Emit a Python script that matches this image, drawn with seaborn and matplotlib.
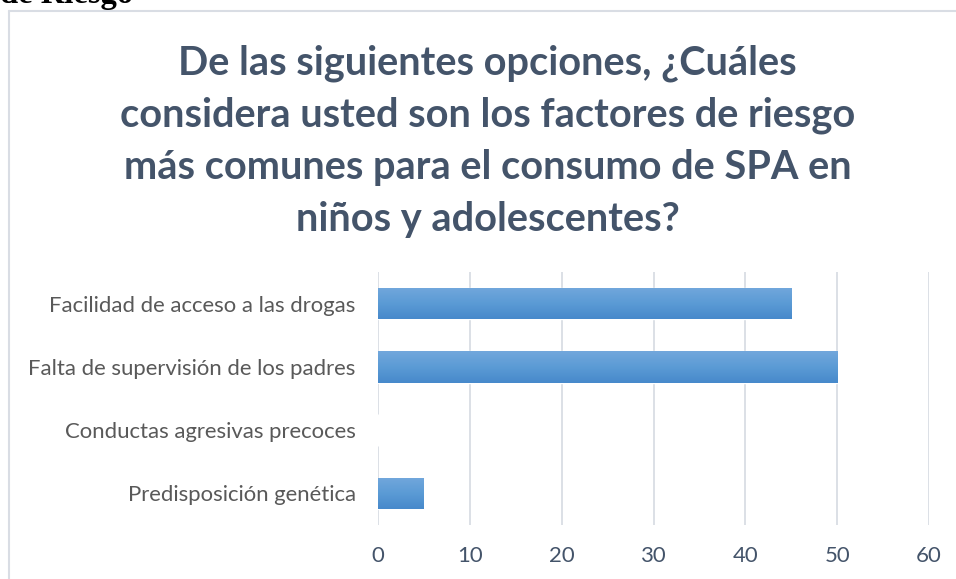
import numpy as np
import pandas as pd
import matplotlib.pyplot as plt
import seaborn as sns
from matplotlib.lines import Line2D

# values
factores = ['Facilidad de acceso a las drogas',
            'Falta de supervisión de los padres',
            'Conductas agresivas precoces',
            'Predisposición genética']
porcentaje = [45, 50, 0, 5]
ticks_x = [0, 10, 20, 30, 40, 50, 60]

titulo = ('De las siguientes opciones, ¿Cuáles\n'
          'considera usted son los factores de riesgo\n'
          'más comunes para el consumo de SPA en\n'
          'niños y adolescentes?')

df = pd.DataFrame({'factor': factores, 'valor': porcentaje})

sns.set_style('white')
plt.rcParams['font.family'] = ['Lato', 'DejaVu Sans']

fig = plt.figure(figsize=(9.56, 5.79), dpi=100)
ax = fig.add_axes([0.3954, 0.0933, 0.5764, 0.4370])

sns.barplot(data=df, x='valor', y='factor', color='#5b9bd5', width=0.5,
            saturation=1, ax=ax, orient='h')

# vertical gradient inside each bar
grad = np.linspace(0, 1, 64).reshape(-1, 1)
cmap = sns.blend_palette(['#72a7dc', '#5b9bd5', '#4789cb'], as_cmap=True)
for p in ax.patches:
    if p.get_width() <= 0:
        continue
    x0, y0 = p.get_x(), p.get_y()
    im = ax.imshow(grad, cmap=cmap, aspect='auto', interpolation='bilinear',
                   extent=[x0, x0 + p.get_width(), y0 + p.get_height(), y0],
                   zorder=p.get_zorder() + 0.1)
    im.set_clip_path(p)

ax.set_xlim(0, 60)
ax.set_ylim(3.5, -0.5)
ax.set_xticks(ticks_x)
ax.set_xlabel('')
ax.set_ylabel('')
ax.grid(axis='x', color='#d9dde4', linewidth=1.3)
ax.set_axisbelow(True)
for s in ax.spines.values():
    s.set_visible(False)
ax.tick_params(axis='y', length=0, pad=16, labelsize=15.9, labelcolor='#595959')
ax.tick_params(axis='x', length=0, pad=15, labelsize=15.9, labelcolor='#44546a')

fig.text(0.510, 1 - 141 / 579, titulo, ha='center', va='center', fontsize=28.6,
         fontweight='bold', color='#44546a', linespacing=1.5)

# chart frame (left and top edges visible)
fig.add_artist(Line2D([9 / 956, 9 / 956], [0, 1 - 11 / 579],
                      transform=fig.transFigure, color='#d9dde4', lw=1.5))
fig.add_artist(Line2D([9 / 956, 1], [1 - 11 / 579, 1 - 11 / 579],
                      transform=fig.transFigure, color='#d9dde4', lw=1.5))

# cut-off heading from the page above
fig.text(0.0, 1 - 3 / 579, 'de Riesgo', ha='left', va='baseline',
         fontsize=23.5, fontweight='bold', family='Liberation Serif', color='black')

fig.savefig('out.png', dpi=100)
plt.close(fig)
